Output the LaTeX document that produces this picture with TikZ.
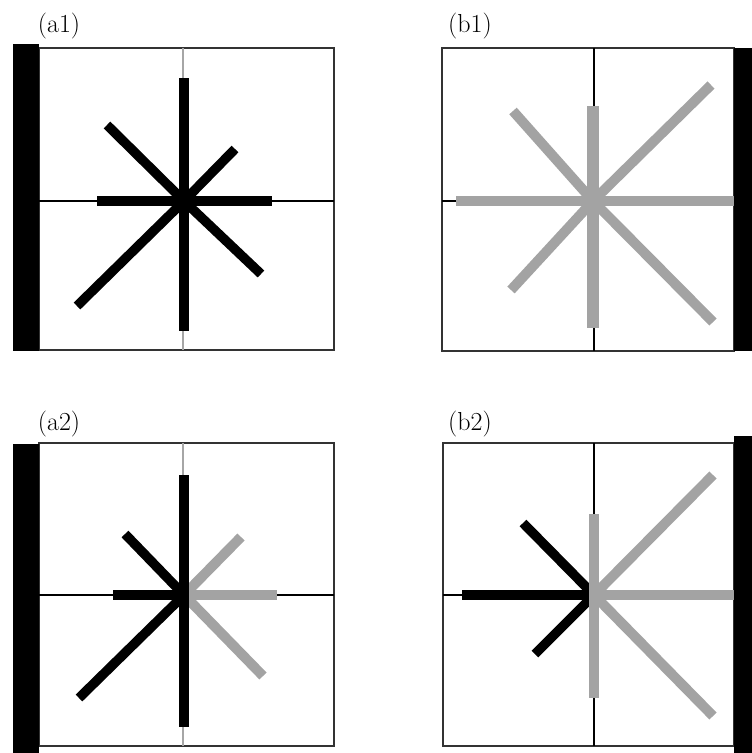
\documentclass[tikz,border=0pt]{standalone}
\usepackage{tikz}
\definecolor{raygray}{RGB}{163,163,163}

\begin{document}
\begin{tikzpicture}[
      x=1pt, y=-1pt, % one unit = one pixel of the reference
      frame/.style={draw=black!80, line width=1.4pt},
      crossdark/.style={black, line width=1.3pt},
      crosslight/.style={black!35, line width=1.8pt},
      raydark/.style={black, line width=9.5pt},
      raylight/.style={raygray, line width=10pt},
      wall/.style={fill=black, draw=none},
      tag/.style={font=\fontsize{26}{28}\selectfont, inner sep=0pt},
  ]
      \useasboundingbox (0,0) rectangle (752,753);

      % --- PANEL (a1) ---
      \coordinate (ca1) at (184,201);
      \draw[frame] (39,48) rectangle (334,350);
      \draw[crosslight] (183,48) -- (183,350);
      \draw[crossdark] (39,201) -- (334,201);
      \draw[raydark] (ca1) -- ++(0,-123);
      \draw[raydark] (ca1) -- ++(0,130);
      \draw[raydark] (ca1) -- ++(-87,0);
      \draw[raydark] (ca1) -- ++(88,0);
      \draw[raydark] (ca1) -- ++(-77,-76);
      \draw[raydark] (ca1) -- ++(51,-52);
      \draw[raydark] (ca1) -- ++(-107,105);
      \draw[raydark] (ca1) -- ++(77,73);
      \fill[wall] (13,44) rectangle (39,351);
      \node[tag] (la1) at (59,26) {(a1)};

      % --- PANEL (b1) ---
      \coordinate (cb1) at (593,201);
      \draw[frame] (442,48) rectangle (734,351);
      \draw[crossdark] (594,48) -- (594,351);
      \draw[crossdark] (442,201) -- (734,201);
      \draw[raylight, line width=11.5pt] (cb1) -- ++(0,-95);
      \draw[raylight, line width=11.5pt] (cb1) -- ++(0,127);
      \draw[raylight] (cb1) -- ++(-137,0);
      \draw[raylight] (cb1) -- ++(141,0);
      \draw[raylight] (cb1) -- ++(-80,-90);
      \draw[raylight] (cb1) -- ++(118,-116);
      \draw[raylight] (cb1) -- ++(-82,89);
      \draw[raylight] (cb1) -- ++(120,121);
      \fill[wall] (734,48) rectangle (752,351);
      \node[tag] (lb1) at (470,26) {(b1)};

      % --- PANEL (a2) ---
      \coordinate (ca2) at (184,595);
      \draw[frame] (39,443) rectangle (334,746);
      \draw[crosslight] (183,443) -- (183,746);
      \draw[crossdark] (39,595) -- (334,595);
      % gray half first, black half on top
      \draw[raylight] (ca2) -- ++(93,0);
      \draw[raylight] (ca2) -- ++(57,-58);
      \draw[raylight] (ca2) -- ++(79,81);
      \draw[raydark] (ca2) -- ++(0,-120);
      \draw[raydark] (ca2) -- ++(0,132);
      \draw[raydark] (ca2) -- ++(-71,0);
      \draw[raydark] (ca2) -- ++(-59,-61);
      \draw[raydark] (ca2) -- ++(-105,103);
      \fill[wall] (13,444) rectangle (39,753);
      \node[tag] (la2) at (59,424) {(a2)};

      % --- PANEL (b2) ---
      \coordinate (cb2) at (594,595);
      \draw[frame] (443,443) rectangle (734,746);
      \draw[crossdark] (594,443) -- (594,746);
      \draw[crossdark] (443,595) -- (734,595);
      % black half first, gray half on top
      \draw[raydark] (cb2) -- ++(-132,0);
      \draw[raydark] (cb2) -- ++(-71,-72);
      \draw[raydark] (cb2) -- ++(-59,59);
      \draw[raylight] (cb2) -- ++(0,-81);
      \draw[raylight] (cb2) -- ++(0,103);
      \draw[raylight] (cb2) -- ++(140,0);
      \draw[raylight] (cb2) -- ++(119,-120);
      \draw[raylight] (cb2) -- ++(119,121);
      \fill[wall] (734,436) rectangle (752,753);
      \node[tag] (lb2) at (470,424) {(b2)};

  \end{tikzpicture}
\end{document}
